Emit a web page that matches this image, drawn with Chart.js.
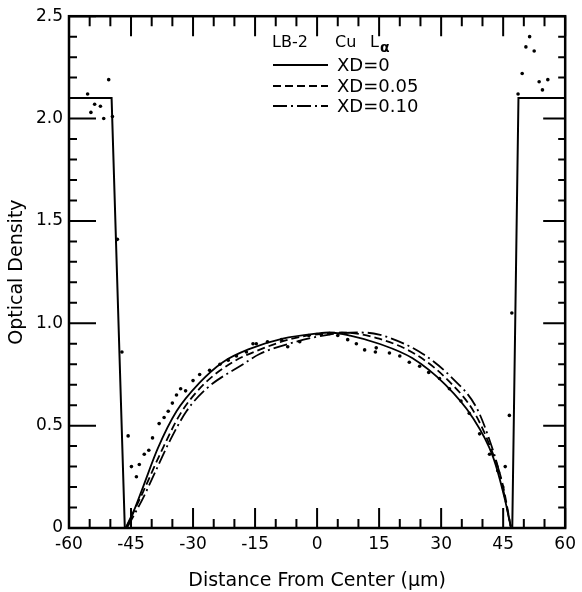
<!DOCTYPE html>
<html>

<head>
    <title>Optical density profile</title>
    <script src="https://cdn.jsdelivr.net/npm/chart.js@4/dist/chart.umd.min.js"></script>
    <style>
        body {
            margin: 0;
            background-color: white;
        }

        #wrap {
            width: 582px;
            height: 592px;
        }
    </style>
</head>

<body>
    <div id="wrap">
        <canvas id="odChart"></canvas>
    </div>

    <script>
        // axis ticks
        const xTicks = [-60, -45, -30, -15, 0, 15, 30, 45, 60]
        const yTicks = [0, 0.5, 1.0, 1.5, 2.0, 2.5]

        // step profile (solid), left and right parts
        const stepLeftX = [-60, -49.7, -46.5]
        const stepLeftY = [2.1, 2.1, 0]
        const stepRightX = [47.2, 48.7, 60]
        const stepRightY = [0, 2.1, 2.1]

        // XD = 0
        const xd0X = [-46.3, -44, -42.1, -38.5, -34, -28.4, -22.8, -16.3, -8.3, 0, 3, 8, 15, 23, 31, 37.6, 42.5, 45.3, 46.9]
        const xd0Y = [0, 0.10, 0.20, 0.39, 0.57, 0.71, 0.81, 0.875, 0.925, 0.95, 0.955, 0.94, 0.90, 0.83, 0.70, 0.54, 0.35, 0.15, 0]

        // XD = 0.05
        const xd05X = [-46.2, -42, -38, -33, -27.5, -20, -14, -6, 2, 6, 15, 24.5, 32, 38, 42, 44.8, 46.9]
        const xd05Y = [0, 0.18, 0.36, 0.56, 0.70, 0.815, 0.87, 0.925, 0.95, 0.955, 0.925, 0.84, 0.715, 0.565, 0.39, 0.22, 0]

        // XD = 0.10
        const xd10X = [-46, -42, -39, -36, -31.6, -26.8, -17.9, -13.9, -5, 3, 10, 15, 25.6, 32.8, 38.5, 41.7, 44.1, 46.5, 46.9]
        const xd10Y = [0, 0.15, 0.28, 0.41, 0.57, 0.68, 0.80, 0.85, 0.91, 0.945, 0.955, 0.945, 0.85, 0.73, 0.59, 0.43, 0.27, 0.04, 0]

        // measured points
        const dotX = [-55.5, -53.8, -52.4, -54.7, -51.6, -49.5, -50.4, -48.3, -47.2, -45.7, -44.9, -43.0, -43.7, -41.8, -40.7, -39.8,
            -38.2, -37.0, -36.0, -35.0, -34.0, -33.0, -31.8, -30.0, -28.4, -26.0, -23.5, -21.5, -19.5, -17.1, -15.5, -14.7, -12, -8.6,
            -7.1, -4.2, -2, 1.0, 3.0, 5, 7.4, 9.5, 11.5, 14.1, 14.3, 17.5, 20, 22.3, 24.8, 27, 29.6, 32.0, 34.8, 36.8, 39.3, 41.7, 43.7,
            44.9, 45.5, 46.5, 47.1, 48.6, 49.6, 50.5, 51.4, 52.5, 53.7, 54.5, 55.8]
        const dotY = [2.12, 2.07, 2.06, 2.03, 2.00, 2.01, 2.19, 1.41, 0.86, 0.45, 0.30, 0.31, 0.25, 0.36, 0.38, 0.44,
            0.51, 0.54, 0.57, 0.61, 0.65, 0.68, 0.67, 0.72, 0.75, 0.77, 0.80, 0.82, 0.84, 0.86, 0.90, 0.90, 0.91, 0.92,
            0.885, 0.91, 0.94, 0.945, 0.95, 0.94, 0.92, 0.90, 0.87, 0.86, 0.88, 0.855, 0.84, 0.81, 0.79, 0.76, 0.73, 0.68, 0.62, 0.56, 0.46, 0.36, 0.28,
            0.20, 0.30, 0.55, 1.05, 2.12, 2.22, 2.35, 2.40, 2.33, 2.18, 2.14, 2.19]

        const pts = (xs, ys) => xs.map((x, i) => ({ x: x, y: ys[i] }))
        const FONT = "'DejaVu Sans', sans-serif"
        const dashed = [8, 4]
        const dashDot = [14, 4, 2, 4]

        // frame with inward ticks on all four sides
        const frameTicks = {
            id: 'frameTicks',
            afterDraw(chart) {
                const ctx = chart.ctx
                const a = chart.chartArea
                const xs = chart.scales.x
                const ys = chart.scales.y
                ctx.save()
                ctx.strokeStyle = '#000'
                ctx.lineWidth = 2.5
                ctx.strokeRect(a.left, a.top, a.right - a.left, a.bottom - a.top)
                ctx.lineWidth = 2
                ctx.beginPath()
                for (let v = -60; v <= 60; v += 5) {
                    const px = xs.getPixelForValue(v)
                    const major = xTicks.includes(v)
                    ctx.moveTo(px, a.bottom); ctx.lineTo(px, a.bottom - (major ? 20 : 9))
                    ctx.moveTo(px, a.top); ctx.lineTo(px, a.top + (major ? 20 : 10))
                }
                for (let i = 0; i <= 25; i++) {
                    const v = i / 10
                    const py = ys.getPixelForValue(v)
                    const major = i % 5 === 0
                    ctx.moveTo(a.left, py); ctx.lineTo(a.left + (major ? 27 : 8), py)
                    ctx.moveTo(a.right, py); ctx.lineTo(a.right - (major ? 22 : 7), py)
                }
                ctx.stroke()

                // legend
                ctx.fillStyle = '#000'
                ctx.textBaseline = 'alphabetic'
                ctx.font = '16px ' + FONT
                ctx.fillText('LB-2', 272, 47)
                ctx.fillText('Cu', 335, 47)
                ctx.fillText('L', 370, 47)
                ctx.font = 'bold 14px ' + FONT
                ctx.fillText('α', 380, 52)

                const rows = [
                    { y: 65, dash: [], label: 'XD=0' },
                    { y: 86, dash: dashed, label: 'XD=0.05' },
                    { y: 106, dash: dashDot, label: 'XD=0.10' },
                ]
                ctx.lineWidth = 1.8
                ctx.font = '18px ' + FONT
                ctx.textBaseline = 'middle'
                rows.forEach(r => {
                    ctx.setLineDash(r.dash)
                    ctx.beginPath()
                    ctx.moveTo(273, r.y); ctx.lineTo(328, r.y)
                    ctx.stroke()
                    ctx.fillText(r.label, 337, r.y + 1)
                })
                ctx.restore()
            }
        }

        const lineSet = (data, dash) => ({
            data: data,
            showLine: true,
            borderColor: '#000',
            borderWidth: 1.8,
            borderDash: dash,
            pointRadius: 0,
            cubicInterpolationMode: 'monotone',
            fill: false,
        })

        new Chart(document.getElementById('odChart'), {
            type: 'scatter',
            data: {
                datasets: [
                    Object.assign(lineSet(pts(stepLeftX, stepLeftY), []), { cubicInterpolationMode: 'default', tension: 0, borderWidth: 2 }),
                    Object.assign(lineSet(pts(stepRightX, stepRightY), []), { cubicInterpolationMode: 'default', tension: 0, borderWidth: 2 }),
                    lineSet(pts(xd0X, xd0Y), []),
                    lineSet(pts(xd05X, xd05Y), dashed),
                    lineSet(pts(xd10X, xd10Y), dashDot),
                    {
                        data: pts(dotX, dotY),
                        showLine: false,
                        pointRadius: 1.8,
                        pointBorderWidth: 0,
                        pointBackgroundColor: '#000',
                    },
                ],
            },
            plugins: [frameTicks],
            options: {
                responsive: true,
                maintainAspectRatio: false,
                animation: false,
                layout: { padding: { top: 14, right: 16, left: 0, bottom: 0 } },
                plugins: {
                    legend: { display: false },
                    tooltip: { enabled: false },
                },
                scales: {
                    x: {
                        type: 'linear',
                        min: -60,
                        max: 60,
                        afterFit: (s) => { s.height = 64 },
                        grid: { display: false, drawTicks: false },
                        border: { display: false },
                        ticks: {
                            stepSize: 15,
                            padding: 6,
                            maxRotation: 0,
                            color: '#000',
                            font: { family: FONT, size: 17 },
                        },
                        title: {
                            display: true,
                            text: 'Distance From Center (μm)',
                            color: '#000',
                            font: { family: FONT, size: 19 },
                            padding: { top: 0, bottom: 0 },
                        },
                    },
                    y: {
                        type: 'linear',
                        min: 0,
                        max: 2.5,
                        afterFit: (s) => { s.width = 69 },
                        grid: { display: false, drawTicks: false },
                        border: { display: false },
                        ticks: {
                            stepSize: 0.5,
                            padding: 6,
                            color: '#000',
                            font: { family: FONT, size: 17 },
                            callback: (v) => v === 0 ? '0' : v.toFixed(1),
                        },
                        title: {
                            display: true,
                            text: 'Optical Density',
                            color: '#000',
                            font: { family: FONT, size: 19 },
                            padding: { top: 6, bottom: 0 },
                        },
                    },
                },
            },
        })
    </script>
</body>

</html>
